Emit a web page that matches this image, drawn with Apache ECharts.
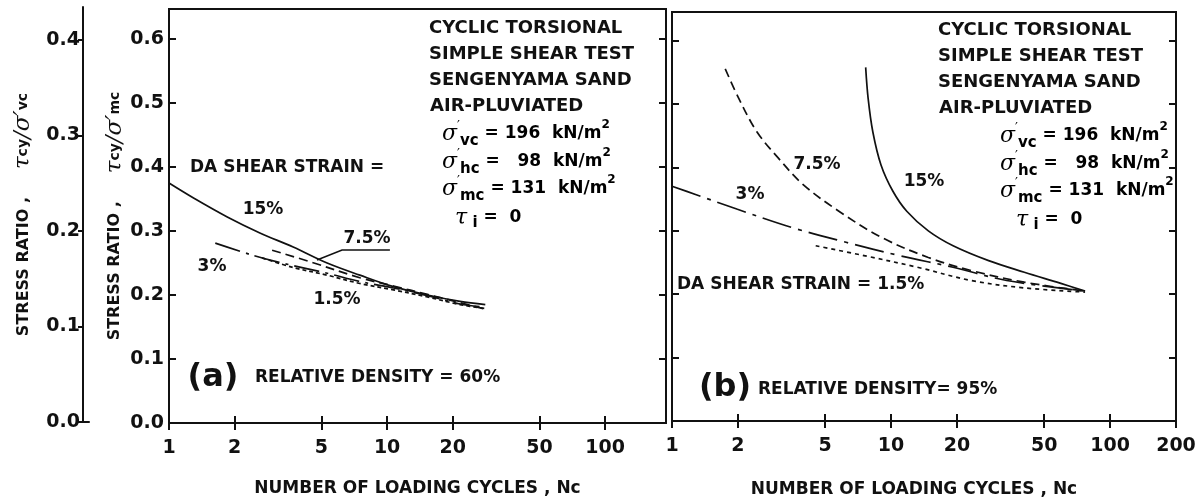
<!DOCTYPE html>
<html>
<head>
<meta charset="utf-8">
<script src="https://cdn.jsdelivr.net/npm/echarts@6/dist/echarts.min.js"></script>
<style>
    html, body { margin: 0; padding: 0; background: #fff; }
    #chart { width: 1201px; height: 503px; }
</style>
</head>
<body>
<div id="chart"></div>
<script>
// axis ticks
const xTicksA = [1, 2, 5, 10, 20, 50, 100]
const xTicksB = [1, 2, 5, 10, 20, 50, 100, 200]
const yTicksMc = [0, 0.1, 0.2, 0.3, 0.4, 0.5, 0.6]
const yTicksVc = [0, 0.1, 0.2, 0.3, 0.4]

// (a) relative density 60%  [Nc, stress ratio]
const a15 = [[1, 0.375], [1.29, 0.352], [1.85, 0.322], [2.61, 0.297], [3.71, 0.275], [5.31, 0.25], [7.5, 0.231], [10.7, 0.213], [15.3, 0.2], [21.6, 0.19], [28.2, 0.185]]
const a7_5 = [[2.97, 0.27], [4.43, 0.252], [7.5, 0.227], [10.7, 0.214], [15.3, 0.201], [21.6, 0.188], [28.2, 0.178]]
const a3 = [[1.63, 0.281], [2.4, 0.2625], [3.2, 0.251], [5.31, 0.234], [7.5, 0.221], [10.7, 0.211], [15.3, 0.199], [21.6, 0.186], [28.2, 0.181]]
const a1_5 = [[2.67, 0.258], [3.71, 0.243], [5.31, 0.231], [7.5, 0.218], [10.7, 0.208], [15.3, 0.197], [21.6, 0.185], [28.2, 0.179]]
const aLeader = [[4.77, 0.2547], [6.22, 0.2703], [10.3, 0.2703]]

// (b) relative density 95%
const b15 = [[7.66, 0.558], [7.86, 0.509], [8.26, 0.456], [9.0, 0.404], [10.2, 0.3625], [11.8, 0.331], [14.8, 0.3], [19.2, 0.2765], [27.9, 0.253], [40.6, 0.2347], [59.1, 0.2175], [76.9, 0.205]]
const b7_5 = [[1.75, 0.5556], [2.02, 0.5086], [2.44, 0.4564], [3.06, 0.4147], [3.97, 0.373], [5.78, 0.331], [9.07, 0.2895], [14.8, 0.258], [23.2, 0.2374], [40.6, 0.219], [76.9, 0.205]]
const b3 = [[1, 0.3704], [1.29, 0.357], [1.99, 0.334], [3.55, 0.305], [6.23, 0.282], [10.9, 0.261], [19.2, 0.2426], [33.7, 0.2217], [76.9, 0.205]]
const b1_5 = [[4.53, 0.2765], [7.52, 0.261], [13.2, 0.2426], [23.2, 0.2217], [40.6, 0.21], [76.9, 0.2034]]

const FONT = '"DejaVu Sans"'
const INK = '#111'

const titleRich = {
    a: { fontFamily: FONT, fontWeight: 'bold', fontSize: 16, color: INK },
    g: { fontFamily: '"DejaVu Serif"', fontStyle: 'italic', fontSize: 23, color: INK },
    s: { fontFamily: FONT, fontWeight: 'bold', fontSize: 14, color: INK }
}

const logX = (gi, max, ticks, pos, labels) => ({
    type: 'log', logBase: 10, gridIndex: gi, min: 1, max: max, position: pos,
    axisLine: { show: false },
    axisTick: { show: true, inside: true, length: 7, customValues: ticks, lineStyle: { color: INK, width: 2 } },
    axisLabel: { show: labels, customValues: ticks, margin: 16, color: INK, fontSize: 19, fontFamily: FONT, fontWeight: 'bold' },
    splitLine: { show: false },
    minorTick: { show: false }
})

const valY = (gi, max, pos, labels) => ({
    type: 'value', gridIndex: gi, min: 0, max: max, position: pos,
    axisLine: { show: false },
    axisTick: { show: true, inside: true, length: 7, customValues: yTicksMc, lineStyle: { color: INK, width: 2 } },
    axisLabel: { show: labels, customValues: yTicksMc, margin: 5, color: INK, fontSize: 19, fontFamily: FONT, fontWeight: 'bold', formatter: v => v.toFixed(1) },
    splitLine: { show: false }
})

const curve = (data, xi, dash) => ({
    type: 'line', data: data, xAxisIndex: xi, yAxisIndex: xi,
    smooth: 0.35, showSymbol: false, silent: true,
    lineStyle: { color: INK, width: 1.7, type: dash }
})

const txt = (x, y, text, size, align) => ({
    type: 'text', x: x, y: y, silent: true,
    style: { text: text, fill: INK, font: 'bold ' + size + 'px ' + FONT, align: align || 'left', verticalAlign: 'middle' }
})

const sigmaRich = {
    g: { fontFamily: '"DejaVu Serif"', fontStyle: 'italic', fontSize: 22, color: INK, lineHeight: 26 },
    p: { fontFamily: FONT, fontSize: 13, color: INK, verticalAlign: 'top', lineHeight: 26 },
    s: { fontFamily: FONT, fontWeight: 'bold', fontSize: 15, color: INK, verticalAlign: 'bottom', lineHeight: 22 },
    t: { fontFamily: FONT, fontWeight: 'bold', fontSize: 17, color: INK, lineHeight: 26 },
    u: { fontFamily: FONT, fontWeight: 'bold', fontSize: 12, color: INK, verticalAlign: 'top', lineHeight: 30 }
}
const sig = (x, y, text) => ({
    type: 'text', x: x, y: y, silent: true,
    style: { text: text, rich: sigmaRich, align: 'left', verticalAlign: 'middle' }
})

const infoBlock = (x, y0, sx, tx) => [
    txt(x, y0, 'CYCLIC TORSIONAL', 18),
    txt(x, y0 + 26, 'SIMPLE SHEAR TEST', 18),
    txt(x, y0 + 52, 'SENGENYAMA SAND', 18),
    txt(x + 1, y0 + 78, 'AIR-PLUVIATED', 18),
    sig(sx, y0 + 106, '{g|σ}{p|′}{s|vc}{t| = 196  kN/m}{u|2}'),
    sig(sx, y0 + 134, '{g|σ}{p|′}{s|hc}{t| =   98  kN/m}{u|2}'),
    sig(sx, y0 + 161, '{g|σ}{p|′}{s|mc}{t| = 131  kN/m}{u|2}'),
    sig(tx, y0 + 190, '{g|τ}{s| i}{t| =  0}')
]

const option = {
    animation: false,
    backgroundColor: '#fff',
    grid: [
        { left: 83, top: 7, width: 6, height: 415 },
        { left: 169, top: 9, width: 497, height: 414, show: true, borderColor: INK, borderWidth: 2 },
        { left: 672, top: 12, width: 504, height: 413, show: true, borderColor: INK, borderWidth: 2 }
    ],
    xAxis: [
        { type: 'value', gridIndex: 0, min: 0, max: 1, axisLine: { lineStyle: { color: INK, width: 2 } }, axisTick: { show: false }, axisLabel: { show: false }, splitLine: { show: false } },
        Object.assign(logX(1, 190, xTicksA, 'bottom', true), {
            name: 'NUMBER OF LOADING CYCLES , Nc', nameLocation: 'middle', nameGap: 57,
            nameTextStyle: { color: INK, fontSize: 17, fontFamily: FONT, fontWeight: 'bold' }
        }),
        logX(1, 190, xTicksA, 'top', false),
        Object.assign(logX(2, 200, xTicksB, 'bottom', true), {
            name: 'NUMBER OF LOADING CYCLES , Nc', nameLocation: 'middle', nameGap: 60,
            nameTextStyle: { color: INK, fontSize: 17, fontFamily: FONT, fontWeight: 'bold', padding: [0, 20, 0, 0] }
        }),
        logX(2, 200, xTicksB, 'top', false)
    ],
    yAxis: [
        {
            type: 'value', gridIndex: 0, min: 0, max: 0.4346, position: 'left',
            axisLine: { show: true, lineStyle: { color: INK, width: 2 } },
            axisTick: { show: true, inside: false, length: 5, customValues: yTicksVc, lineStyle: { color: INK, width: 2 } },
            axisLabel: { customValues: yTicksVc, margin: 3, color: INK, fontSize: 19, fontFamily: FONT, fontWeight: 'bold', formatter: v => v.toFixed(1) },
            splitLine: { show: false },
            name: '{a|STRESS RATIO ,     }{g|τ}{s|cy}{g|/σ′}{s|vc}', nameLocation: 'middle', nameGap: 48, nameRotate: 90,
            nameTextStyle: { rich: titleRich }
        },
        Object.assign(valY(1, 0.6469, 'left', true), {
            name: '{a|STRESS RATIO ,     }{g|τ}{s|cy}{g|/σ′}{s|mc}', nameLocation: 'middle', nameGap: 42, nameRotate: 90,
            nameTextStyle: { rich: titleRich }
        }),
        valY(1, 0.6469, 'right', false),
        valY(2, 0.6453, 'left', false),
        valY(2, 0.6453, 'right', false)
    ],
    series: [
        curve(a15, 1, 'solid'),
        curve(a7_5, 1, [9, 5]),
        curve(a3, 1, [26, 6, 3, 6]),
        curve(a1_5, 1, [4, 3]),
        Object.assign(curve(aLeader, 1, 'solid'), { smooth: false, lineStyle: { color: INK, width: 1.4 } }),
        curve(b15, 3, 'solid'),
        curve(b7_5, 3, [9, 5]),
        curve(b3, 3, [30, 7, 4, 7]),
        curve(b1_5, 3, [4, 4])
    ],
    graphic: [
        // panel (a)
        txt(190, 168, 'DA SHEAR STRAIN =', 17),
        txt(263, 210, '15%', 17, 'center'),
        txt(212, 267, '3%', 17, 'center'),
        txt(367, 239, '7.5%', 17, 'center'),
        txt(337, 300, '1.5%', 17, 'center'),
        txt(213, 378, '(a)', 32, 'center'),
        txt(255, 378, 'RELATIVE DENSITY = 60%', 17),
        ...infoBlock(429, 28, 442, 455),
        // panel (b)
        txt(817, 165, '7.5%', 17, 'center'),
        txt(924, 182, '15%', 17, 'center'),
        txt(750, 195, '3%', 17, 'center'),
        txt(677, 285, 'DA SHEAR STRAIN = 1.5%', 17),
        txt(725, 388, '(b)', 32, 'center'),
        txt(758, 390, 'RELATIVE DENSITY= 95%', 17),
        ...infoBlock(938, 30, 1000, 1016)
    ]
}

const myChart = echarts.init(document.getElementById('chart'))
myChart.setOption(option)
</script>
</body>
</html>
